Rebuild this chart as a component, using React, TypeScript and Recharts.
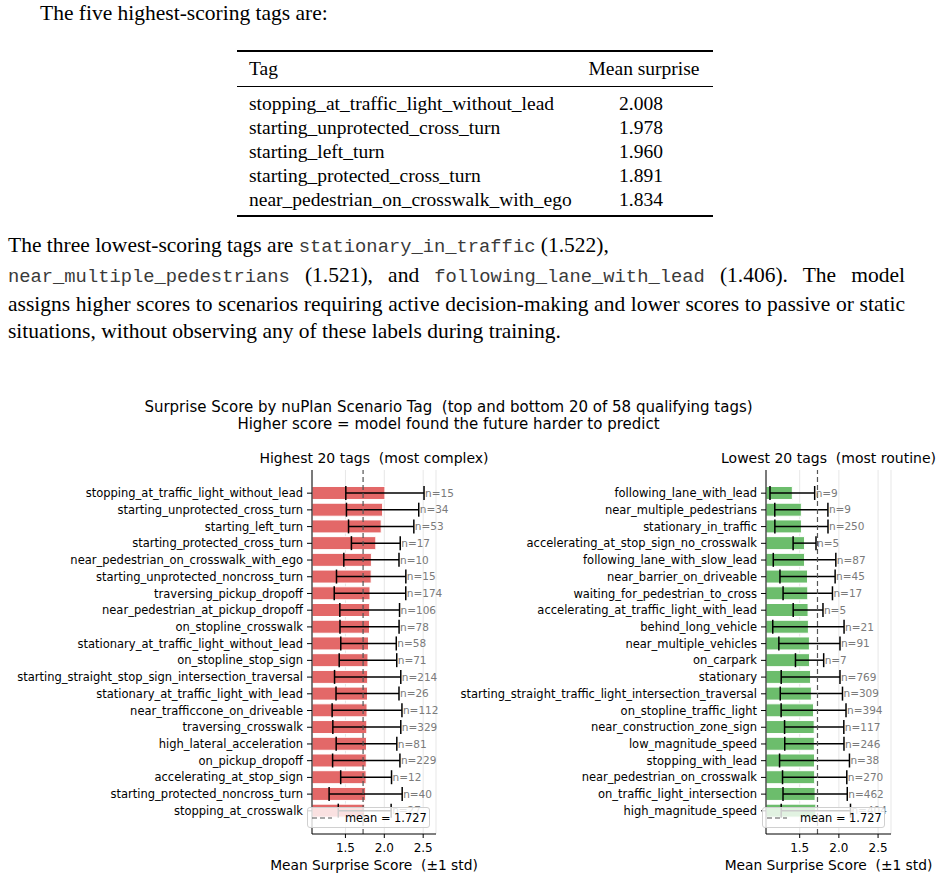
import React from 'react';
import { BarChart, Bar, XAxis, YAxis, CartesianGrid, ReferenceLine, ErrorBar, LabelList } from 'recharts';

// ---------- document text ----------
const introText = 'The five highest-scoring tags are:';
const tableHeader = ['Tag', 'Mean surprise'];
const tableTags = [
  'stopping_at_traffic_light_without_lead',
  'starting_unprotected_cross_turn',
  'starting_left_turn',
  'starting_protected_cross_turn',
  'near_pedestrian_on_crosswalk_with_ego',
];
const tableValues = ['2.008', '1.978', '1.960', '1.891', '1.834'];

// ---------- chart data ----------
const highTags = [
  'stopping_at_traffic_light_without_lead',
  'starting_unprotected_cross_turn',
  'starting_left_turn',
  'starting_protected_cross_turn',
  'near_pedestrian_on_crosswalk_with_ego',
  'starting_unprotected_noncross_turn',
  'traversing_pickup_dropoff',
  'near_pedestrian_at_pickup_dropoff',
  'on_stopline_crosswalk',
  'stationary_at_traffic_light_without_lead',
  'on_stopline_stop_sign',
  'starting_straight_stop_sign_intersection_traversal',
  'stationary_at_traffic_light_with_lead',
  'near_trafficcone_on_driveable',
  'traversing_crosswalk',
  'high_lateral_acceleration',
  'on_pickup_dropoff',
  'accelerating_at_stop_sign',
  'starting_protected_noncross_turn',
  'stopping_at_crosswalk',
];
const highMeans = [2.008, 1.978, 1.96, 1.891, 1.834, 1.831, 1.816, 1.812, 1.81, 1.797, 1.79, 1.786, 1.784, 1.778, 1.775, 1.771, 1.768, 1.766, 1.76, 1.748];
const highStds = [0.503, 0.465, 0.42, 0.314, 0.355, 0.446, 0.46, 0.384, 0.38, 0.357, 0.37, 0.426, 0.405, 0.449, 0.437, 0.39, 0.433, 0.327, 0.47, 0.34];
const highCounts = [15, 34, 53, 17, 10, 15, 174, 106, 78, 58, 71, 214, 26, 112, 329, 81, 229, 12, 40, 27];

const lowTags = [
  'following_lane_with_lead',
  'near_multiple_pedestrians',
  'stationary_in_traffic',
  'accelerating_at_stop_sign_no_crosswalk',
  'following_lane_with_slow_lead',
  'near_barrier_on_driveable',
  'waiting_for_pedestrian_to_cross',
  'accelerating_at_traffic_light_with_lead',
  'behind_long_vehicle',
  'near_multiple_vehicles',
  'on_carpark',
  'stationary',
  'starting_straight_traffic_light_intersection_traversal',
  'on_stopline_traffic_light',
  'near_construction_zone_sign',
  'low_magnitude_speed',
  'stopping_with_lead',
  'near_pedestrian_on_crosswalk',
  'on_traffic_light_intersection',
  'high_magnitude_speed',
];
const lowMeans = [1.406, 1.521, 1.522, 1.562, 1.562, 1.6, 1.603, 1.607, 1.611, 1.624, 1.626, 1.639, 1.649, 1.677, 1.685, 1.687, 1.689, 1.691, 1.697, 1.706];
const lowStds = [0.285, 0.339, 0.339, 0.146, 0.399, 0.352, 0.315, 0.19, 0.455, 0.39, 0.18, 0.375, 0.397, 0.414, 0.378, 0.378, 0.446, 0.41, 0.41, 0.442];
const lowCounts = [9, 9, 250, 5, 87, 45, 17, 5, 21, 91, 7, 769, 309, 394, 117, 246, 38, 270, 462, 404];

const xTicks = [1.5, 2.0, 2.5];
const xDomain: [number, number] = [1.07, 2.665];
const overallMean = 1.727;
const suptitleLines = [
  'Surprise Score by nuPlan Scenario Tag  (top and bottom 20 of 58 qualifying tags)',
  'Higher score = model found the future harder to predict',
];
const panelTitles = ['Highest 20 tags  (most complex)', 'Lowest 20 tags  (most routine)'];
const xAxisLabel = 'Mean Surprise Score\u00a0\u00a0(\u00b11 std)';

// ---------- style constants ----------
const SERIF = '"Liberation Serif", "Times New Roman", serif';
const MONO = '"Liberation Mono", "DejaVu Sans Mono", monospace';
const SANS = '"DejaVu Sans", sans-serif';
const RED = '#e36868';
const GREEN = '#6cbd6c';

const CHART_TOP = 440;
const CHART_H = 441;
const M_TOP = 30;
const M_BOTTOM = 17;
const XAXIS_H = 30;
const YAXIS_W = 300;
const PAD = 14.8;

function TextLine({ baseline, size, left, width, justify, font, children, center }: any) {
  const style: React.CSSProperties = {
    position: 'absolute',
    top: baseline - 0.8375 * size,
    fontFamily: font || SERIF,
    fontSize: size,
    lineHeight: `${size}px`,
    whiteSpace: 'nowrap',
    color: '#000',
  };
  if (center !== undefined) {
    style.left = center;
    style.transform = 'translateX(-50%)';
  } else {
    style.left = left;
  }
  if (width) style.width = width;
  if (justify) {
    style.textAlign = 'justify';
    (style as any).textAlignLast = 'justify';
  }
  return <div style={style}>{children}</div>;
}

const Mono = ({ children }: any) => (
  <span style={{ fontFamily: MONO, fontSize: 18.8, color: '#3a3a3a', lineHeight: '18px' }}>{children}</span>
);

function SansTitle({ centerX, centerY, size, text }: any) {
  return (
    <div
      style={{
        position: 'absolute',
        left: centerX,
        top: centerY - 0.486 * size,
        transform: 'translateX(-50%)',
        fontFamily: SANS,
        fontSize: size,
        lineHeight: `${size}px`,
        whiteSpace: 'pre',
        color: '#000',
      }}
    >
      {text}
    </div>
  );
}

function Panel({ tags, means, stds, counts, color, left, width, marginLeft, marginRight, title }: any) {
  const data = tags.map((t: string, i: number) => ({ tag: t, mean: means[i], std: stds[i], n: counts[i] }));
  const plotLeft = left + marginLeft + YAXIS_W;
  const plotRight = left + width - marginRight;
  const plotBottom = CHART_TOP + CHART_H - M_BOTTOM - XAXIS_H;

  const renderN = (props: any) => {
    const vb = props.viewBox && props.viewBox.width !== undefined ? props.viewBox : props;
    const d = data[props.index];
    if (!d || !vb || vb.width === undefined) return null;
    const ppu = vb.width / (d.mean - xDomain[0]);
    const x = vb.x + (d.mean + d.std - xDomain[0]) * ppu + 1;
    const y = vb.y + vb.height / 2;
    return (
      <text x={x} y={y} dy="0.36em" fontSize={10.5} fill="#7a7a7a" fontFamily={SANS}>
        {`n=${d.n}`}
      </text>
    );
  };

  return (
    <>
      <div style={{ position: 'absolute', left, top: CHART_TOP, width, height: CHART_H }}>
        <BarChart
          width={width}
          height={CHART_H}
          data={data}
          layout="vertical"
          margin={{ top: M_TOP, right: marginRight, bottom: M_BOTTOM, left: marginLeft }}
          barCategoryGap="10%"
          style={{ overflow: 'visible', fontFamily: SANS }}
        >
          <CartesianGrid horizontal={false} stroke="#e7e7e7" strokeWidth={1} />
          <XAxis
            type="number"
            dataKey="mean"
            domain={xDomain}
            allowDataOverflow
            ticks={xTicks}
            tickFormatter={(v: number) => v.toFixed(1)}
            tick={{ fontSize: 12, fill: '#000', fontFamily: SANS }}
            tickSize={4}
            tickMargin={5}
            axisLine={{ stroke: '#000' }}
            tickLine={{ stroke: '#000' }}
            height={XAXIS_H}
            label={{ value: xAxisLabel, position: 'bottom', offset: -4, fontSize: 13.8, fill: '#000', fontFamily: SANS }}
          />
          <XAxis
            xAxisId="top"
            orientation="top"
            type="number"
            domain={xDomain}
            allowDataOverflow
            tick={false}
            tickLine={false}
            axisLine={{ stroke: '#000' }}
            height={0}
          />
          <YAxis
            type="category"
            dataKey="tag"
            width={YAXIS_W}
            padding={{ top: PAD, bottom: PAD }}
            interval={0}
            tick={{ fontSize: 11.5, fill: '#000', fontFamily: SANS }}
            tickSize={5}
            tickMargin={4}
            axisLine={{ stroke: '#000' }}
            tickLine={{ stroke: '#000' }}
          />
          <YAxis
            yAxisId="right"
            orientation="right"
            type="category"
            dataKey="tag"
            width={0}
            tick={false}
            tickLine={false}
            axisLine={{ stroke: '#000' }}
          />
          <Bar dataKey="mean" fill={color} stroke="#fff" strokeWidth={1} isAnimationActive={false}>
            <ErrorBar dataKey="std" direction="x" width={7} stroke="#000" strokeWidth={1.5} isAnimationActive={false} />
            <LabelList dataKey="n" content={renderN} />
          </Bar>
          <ReferenceLine x={overallMean} stroke="#555" strokeDasharray="5 3" strokeWidth={1.2} />
        </BarChart>
      </div>
      <SansTitle centerX={(plotLeft + plotRight) / 2} centerY={458} size={14} text={title} />
      <div
        style={{
          position: 'absolute',
          left: plotRight - 6 - 123,
          top: plotBottom - 6 - 21,
          width: 123,
          height: 21,
          boxSizing: 'border-box',
          border: '1px solid #d0d0d0',
          borderRadius: 3,
          background: 'rgba(255,255,255,0.8)',
          display: 'flex',
          alignItems: 'center',
          fontFamily: SANS,
          fontSize: 11.4,
          color: '#000',
        }}
      >
        <svg width={24} height={10} style={{ marginLeft: 3, flex: 'none' }}>
          <line x1={1} y1={5} x2={21} y2={5} stroke="#555" strokeWidth={1.2} strokeDasharray="5 3" />
        </svg>
        <span style={{ marginLeft: 10, whiteSpace: 'nowrap' }}>{`mean = ${overallMean.toFixed(3)}`}</span>
      </div>
    </>
  );
}

export default function App() {
  const rowBaselines = tableTags.map((_, i) => 110 + i * 24);
  return (
    <div style={{ position: 'absolute', left: 0, top: 0, width: 941, height: 881, background: '#fff', overflow: 'hidden' }}>
      <TextLine baseline={21} size={21.5} left={40}>{introText}</TextLine>

      {/* table rules */}
      <div style={{ position: 'absolute', left: 237, top: 50, width: 476, height: 2, background: '#000' }} />
      <div style={{ position: 'absolute', left: 237, top: 86, width: 476, height: 1.2, background: '#000' }} />
      <div style={{ position: 'absolute', left: 237, top: 215, width: 476, height: 2, background: '#000' }} />
      <TextLine baseline={75} size={19.5} left={249}>{tableHeader[0]}</TextLine>
      <TextLine baseline={75} size={19.5} center={644}>{tableHeader[1]}</TextLine>
      {tableTags.map((t, i) => (
        <TextLine key={t} baseline={rowBaselines[i]} size={19.5} left={249}>{t}</TextLine>
      ))}
      {tableValues.map((v, i) => (
        <TextLine key={'v' + i} baseline={rowBaselines[i]} size={19.5} center={641}>{v}</TextLine>
      ))}

      {/* paragraph */}
      <TextLine baseline={253} size={21.5} left={8}>
        The three lowest-scoring tags are <Mono>stationary_in_traffic</Mono> (1.522),
      </TextLine>
      <TextLine baseline={283} size={21.5} left={8} width={897} justify>
        <Mono>near_multiple_pedestrians</Mono> (1.521), and <Mono>following_lane_with_lead</Mono> (1.406). The model
      </TextLine>
      <TextLine baseline={312} size={21.5} left={8} width={897} justify>
        assigns higher scores to scenarios requiring active decision-making and lower scores to passive or static
      </TextLine>
      <TextLine baseline={339} size={21.5} left={8}>
        situations, without observing any of these labels during training.
      </TextLine>

      {/* figure */}
      <SansTitle centerX={448.5} centerY={407} size={15} text={suptitleLines[0]} />
      <SansTitle centerX={448.5} centerY={424} size={15} text={suptitleLines[1]} />
      <Panel
        tags={highTags}
        means={highMeans}
        stds={highStds}
        counts={highCounts}
        color={RED}
        left={0}
        width={500}
        marginLeft={12}
        marginRight={64}
        title={panelTitles[0]}
      />
      <Panel
        tags={lowTags}
        means={lowMeans}
        stds={lowStds}
        counts={lowCounts}
        color={GREEN}
        left={440}
        width={501}
        marginLeft={26}
        marginRight={50}
        title={panelTitles[1]}
      />
    </div>
  );
}
